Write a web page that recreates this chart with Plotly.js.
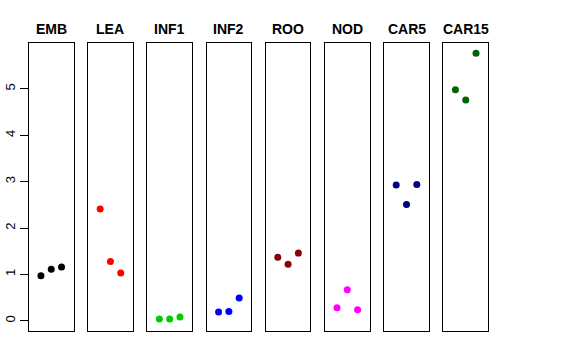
<!DOCTYPE html>
<html><head><meta charset="utf-8">
<script src="https://cdn.plot.ly/plotly-3.0.1.min.js"></script>
<style>html,body{margin:0;padding:0;background:#fff;}</style>
</head><body>
<div id="chart" style="width:576px;height:360px;"></div>
<script>
const categories = ["EMB","LEA","INF1","INF2","ROO","NOD","CAR5","CAR15"];
const colors = ["#000000","#FF0000","#00CD00","#0000FF","#8B0000","#FF00FF","#000080","#006400"];
const xpos = [1,2,3];
const EMB = [0.97,1.11,1.16];
const LEA = [2.41,1.28,1.03];
const INF1 = [0.04,0.04,0.08];
const INF2 = [0.19,0.20,0.49];
const ROO = [1.37,1.22,1.46];
const NOD = [0.28,0.67,0.24];
const CAR5 = [2.93,2.51,2.94];
const CAR15 = [4.98,4.76,5.77];
const values = [EMB,LEA,INF1,INF2,ROO,NOD,CAR5,CAR15];
const yTicks = [0,1,2,3,4,5];

const W = 576, H = 360;
const mL = 29, mR = 88, mT = 43, mB = 29;
const pw = W - mL - mR, ph = H - mT - mB;
const step = 59.21, panelW = 44.5;

const data = [];
const layout = {
  width: W, height: H,
  margin: {l: mL, r: mR, t: mT, b: mB, pad: 0},
  paper_bgcolor: "#fff", plot_bgcolor: "#fff",
  showlegend: false,
  font: {family: "Liberation Sans, Arial, sans-serif", color: "#000"},
  annotations: []
};
categories.forEach((c, i) => {
  const s = i === 0 ? "" : String(i + 1);
  data.push({
    type: "scatter", mode: "markers",
    x: xpos, y: values[i],
    xaxis: "x" + s, yaxis: "y" + s,
    marker: {color: colors[i], size: 7},
    hoverinfo: "skip"
  });
  const d0 = (step * i) / pw, d1 = (step * i + panelW) / pw;
  layout["xaxis" + s] = {
    domain: [d0, d1], anchor: "y" + s, range: [-0.16, 4.16],
    showticklabels: false, ticks: "", showgrid: false, zeroline: false,
    showline: true, mirror: true, linecolor: "#000", linewidth: 1, fixedrange: true
  };
  layout["yaxis" + s] = {
    domain: [0, 1], anchor: "x" + s, range: [-0.22, 5.99],
    showgrid: false, zeroline: false,
    showline: true, mirror: true, linecolor: "#000", linewidth: 1,
    tickvals: i === 0 ? yTicks : [], ticktext: i === 0 ? yTicks.map(String) : [],
    ticks: i === 0 ? "outside" : "", ticklen: 8, tickcolor: "#000",
    showticklabels: i === 0, tickangle: -90,
    tickfont: {size: 13, color: "#000", family: "Liberation Sans, Arial, sans-serif"},
    fixedrange: true
  };
  layout.annotations.push({
    text: "<b>" + c + "</b>", xref: "paper", yref: "paper",
    x: (d0 + d1) / 2, y: 1 + 14 / ph, xanchor: "center", yanchor: "middle",
    showarrow: false, font: {size: 14, color: "#000", family: "Liberation Sans, Arial, sans-serif"}
  });
});
Plotly.newPlot("chart", data, layout, {displayModeBar: false, staticPlot: true});
</script>
</body></html>
